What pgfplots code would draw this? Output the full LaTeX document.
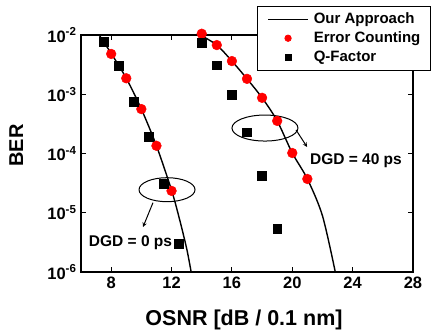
\documentclass[border=0pt]{standalone}
\usepackage{pgfplots}
\pgfplotsset{compat=1.18}
\usepackage{fontspec}
\setmainfont{Liberation Sans}
\begin{document}
\begin{tikzpicture}
\begin{axis}[
  at={(0,0)}, anchor=south west,
  scale only axis, width=332bp, height=237bp,
  xmin=6, xmax=28, ymin=1e-6, ymax=1e-2, ymode=log,
  xtick={8,12,16,20,24,28},
  xticklabels={8,12,16,20,24,28},
  ytick={1e-6,1e-5,1e-4,1e-3,1e-2},
  yticklabels={10\textsuperscript{-6},10\textsuperscript{-5},10\textsuperscript{-4},10\textsuperscript{-3},10\textsuperscript{-2}},
  yminorticks=false, xminorticks=false,
  major tick length=5bp,
  tick style={line width=1bp, black},
  axis line style={line width=1.3bp},
  tick label style={font=\fontsize{16.5bp}{19bp}\selectfont\bfseries},
  xticklabel style={yshift=-1bp},
  yticklabel style={xshift=-1bp},
  xlabel={OSNR [dB / 0.1 nm]},
  ylabel={BER},
  xlabel style={font=\fontsize{21.5bp}{24bp}\selectfont\bfseries, at={(rel axis cs:0.491,-0.2025)}, anchor=center},
  ylabel style={font=\fontsize{20bp}{24bp}\selectfont\bfseries, at={(rel axis cs:-0.195,0.534)}, anchor=center},
  clip=false,
  legend cell align=left,
  legend style={at={(rel axis cs:0.53,1.122)}, anchor=north west,
    draw=black, line width=0.8bp,
    font=\fontsize{15bp}{17bp}\selectfont\bfseries,
    inner xsep=10bp, inner ysep=5.5bp,
    row sep=4.5bp,
    nodes={inner sep=0pt, text height=11.5bp, text depth=3bp},
    /tikz/every odd column/.append style={column sep=5bp}},
]
% Our Approach curves
\addplot[black, line width=1.4bp, smooth, mark=none,
  legend image code/.code={\draw[black, line width=1.4bp] (0bp,0bp) -- (40bp,0bp);}] coordinates {
(7.2,1e-2) (8,4.9e-3) (9,1.86e-3) (10,5.62e-4) (11,1.35e-4) (12,2.4e-5) (12.5,8.3e-6) (13,2.5e-6) (13.3,1e-6)};
\addlegendentry{Our Approach}
\addplot[black, line width=1.4bp, smooth, mark=none, forget plot] coordinates {
(13.9,1e-2) (15,6.76e-3) (16,3.63e-3) (17,1.82e-3) (18,8.71e-4) (19,3.55e-4) (20,1.02e-4) (21,3.72e-5) (22,8.9e-6) (22.85,1e-6)};
% Error counting
\addplot[only marks, mark=*, mark size=4.9bp, color=red, fill=red,
  legend image code/.code={\fill[red] (20bp,0bp) circle (3.2bp);}] coordinates {
(8,4.79e-3) (9,1.86e-3) (10,5.62e-4) (11,1.35e-4) (12,2.34e-5)};
\addlegendentry{Error Counting}
\addplot[only marks, mark=*, mark size=4.9bp, color=red, fill=red, forget plot] coordinates {
(14,1.05e-2) (15,6.76e-3) (16,3.63e-3) (17,1.82e-3) (18,8.71e-4) (19,3.55e-4) (20,1.02e-4) (21,3.72e-5)};
% Q-factor
\addplot[only marks, mark=square*, mark size=4.4bp, color=black,
  legend image code/.code={\fill[black] (17bp,-3bp) rectangle (23bp,3bp);}] coordinates {
(7.5,7.59e-3) (8.5,3.02e-3) (9.5,7.41e-4) (10.5,1.91e-4) (11.5,3.09e-5) (12.5,3.02e-6)
(14,7.41e-3) (15,3.09e-3) (16,9.77e-4) (17,2.29e-4) (18,4.17e-5) (19,5.37e-6)};
\addlegendentry{Q-Factor}
% annotations
\draw[line width=1bp] (axis cs:11.7,2.45e-5) ellipse [x radius=28bp, y radius=12bp];
\draw[line width=1bp] (axis cs:18.19,2.69e-4) ellipse [x radius=33bp, y radius=13bp];
\draw[line width=1bp, -stealth] (axis cs:10.77,1.48e-5) -- (axis cs:10.11,5.75e-6);
\draw[line width=1bp, -stealth] (axis cs:20.25,2.5e-4) -- (axis cs:20.98,1.29e-4);
\node[font=\fontsize{15.5bp}{18bp}\selectfont\bfseries] at (axis cs:24.22,7.5e-5) {DGD = 40 ps};
\node[font=\fontsize{15.5bp}{18bp}\selectfont\bfseries] at (axis cs:9.28,3.1e-6) {DGD = 0 ps};
\end{axis}
\pgfresetboundingbox
\useasboundingbox (-81bp,-60bp) rectangle (353bp,272bp);
\end{tikzpicture}
\end{document}
